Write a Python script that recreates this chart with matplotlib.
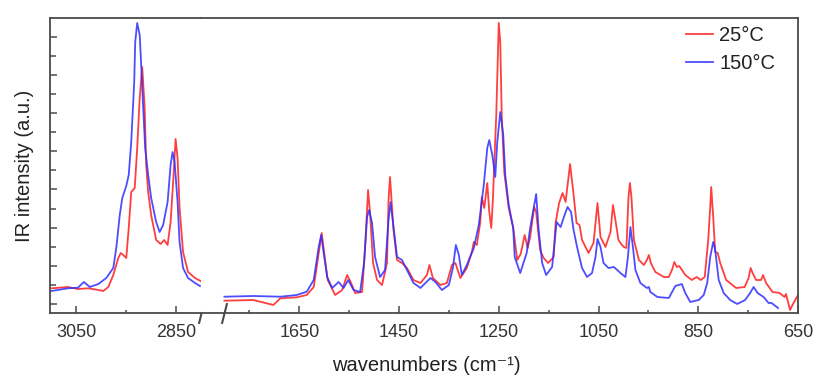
import numpy as np
import matplotlib
matplotlib.use("Agg")
import matplotlib.pyplot as plt
from matplotlib.ticker import FixedLocator, MultipleLocator, NullFormatter

plt.rcParams['font.family'] = ['Liberation Sans', 'DejaVu Sans']

# ---------------- data (IR intensity, arbitrary units) ----------------
# C-H stretching region (left segment)
wn_ch_25 = [3100, 3067, 3047, 3026, 3006, 2996, 2986, 2976, 2966, 2961, 2956, 2950, 2945, 2940,
            2933, 2928, 2923, 2918, 2913, 2910, 2906, 2900, 2890, 2881, 2874, 2867, 2861, 2855,
            2851, 2847, 2843, 2836, 2826, 2812, 2801]
int_ch_25 = [15.7, 17, 15, 15.7, 14, 13, 17, 29, 46, 51, 49, 46, 76, 112,
             116, 156, 206, 237, 196, 139, 112, 89, 64, 60, 64, 59, 82, 129,
             165, 146, 96, 52, 32, 26, 23]

wn_ch_150 = [3100, 3067, 3047, 3035, 3023, 3006, 2990, 2976, 2970, 2963, 2958, 2950, 2945, 2940,
             2934, 2932, 2928, 2923, 2920, 2916, 2912, 2906, 2900, 2890, 2883, 2876, 2867, 2861,
             2857, 2853, 2847, 2843, 2836, 2826, 2812, 2802]
int_ch_150 = [13, 15.7, 16.3, 22, 17, 20, 26, 36, 56, 89, 106, 118, 129, 162,
              222, 262, 281, 269, 239, 196, 156, 129, 106, 82, 72, 79, 102, 139,
              152, 142, 102, 62, 36, 26, 21, 18]

# Fingerprint region (right segment)
wn_fp_25 = [1800, 1742, 1702, 1688, 1655, 1635, 1621, 1611, 1605, 1600, 1593, 1578, 1564, 1554,
            1546, 1538, 1524, 1518, 1512, 1508, 1502, 1494, 1484, 1474, 1471, 1468, 1461, 1454,
            1444, 1434, 1421, 1407, 1394, 1389, 1382, 1367, 1354, 1344, 1337, 1327, 1314, 1304,
            1300, 1294, 1287, 1284, 1279, 1273, 1269, 1265, 1262, 1255, 1250, 1247, 1244, 1239,
            1230, 1221, 1213, 1206, 1198, 1192, 1187, 1179, 1175, 1167, 1160, 1151, 1140, 1136, 1129,
            1122, 1116, 1107, 1101, 1094, 1088, 1083, 1070, 1060, 1052, 1046, 1036, 1026, 1021,
            1017, 1010, 1003, 999, 994, 990, 987, 984, 979, 969, 959, 953, 949, 945,
            936, 919, 909, 902, 898, 893, 888, 876, 863, 853, 845, 837, 830, 826,
            824, 820, 816, 811, 806, 794, 774, 757, 749, 745, 741, 734, 724, 720,
            714, 701, 687, 677, 674, 666, 659, 650]
int_fp_25 = [3.3, 4, -1, 5.7, 6.7, 9, 17, 51, 71, 51, 24, 9, 14, 29,
             21, 11, 12, 57, 114, 91, 41, 24, 19, 41, 104, 127, 74, 44,
             41, 36, 24, 21, 29, 39, 26, 19, 21, 39, 41, 26, 36, 52,
             62, 59, 82, 107, 96, 121, 92, 76, 102, 189, 281, 262, 189, 132,
             96, 76, 44, 50, 69, 56, 67, 97, 92, 54, 46, 41, 47, 81, 101,
             111, 102, 140, 114, 81, 79, 64, 51, 61, 101, 67, 57, 72, 99,
             87, 64, 59, 57, 56, 106, 121, 107, 64, 44, 39, 44, 49, 41,
             32, 27, 27, 35, 42, 37, 38, 29, 24, 27, 24, 27, 64, 97,
             117, 87, 52, 51, 41, 24, 16, 17, 26, 36, 31, 24, 24, 29,
             21, 12, 11, 7, 10, -6, 1, 9]

wn_fp_150 = [1800, 1742, 1688, 1655, 1635, 1621, 1611, 1606, 1601, 1594, 1584, 1571, 1561, 1552,
             1541, 1528, 1520, 1514, 1510, 1504, 1498, 1488, 1478, 1471, 1467, 1461, 1454, 1444,
             1434, 1421, 1407, 1387, 1377, 1364, 1350, 1342, 1336, 1330, 1324, 1314, 1300, 1290,
             1280, 1273, 1269, 1263, 1257, 1253, 1247, 1241, 1237, 1230, 1221, 1218, 1207, 1194,
             1187, 1175, 1170, 1163, 1155, 1143, 1134, 1126, 1118, 1112, 1105, 1100,
             1093, 1083, 1073, 1063, 1056, 1052, 1046, 1040, 1030, 1019, 1006, 996, 991, 986,
             981, 976, 966, 953, 949, 946, 932, 909, 896, 883, 876, 866, 849, 839,
             832, 826, 820, 816, 809, 799, 786, 772, 756, 746, 739, 731, 719, 709,
             703, 690]
int_fp_150 = [7.3, 8, 7.3, 9, 12.3, 24, 57, 69, 51, 27, 16, 22, 16, 24,
              14, 12, 41, 87, 94, 81, 47, 27, 34, 84, 102, 77, 47, 44,
              34, 21, 16, 26, 22, 14, 19, 36, 59, 49, 29, 39, 56, 79,
              119, 156, 164, 149, 127, 162, 192, 169, 129, 99, 76, 47, 31, 51,
              76, 110, 74, 41, 29, 37, 82, 77, 89, 97, 92, 74,
              57, 36, 27, 31, 47, 65, 57, 41, 36, 37, 31, 27, 47, 77,
              57, 34, 21, 16, 17, 12, 7, 6, 18, 20, 11, 2, 4, 9,
              21, 47, 62, 54, 24, 11, 4, 0, 4, 11, 17, 11, 7, 1,
              1, -4]

series_labels = ['25°C', '150°C']
x_major_left = [3050, 2850]
x_minor_left = [2950]
x_major_right = [1650, 1450, 1250, 1050, 850, 650]
x_minor_right = [1750, 1550, 1350, 1150, 950, 750]

# ---------------- styling ----------------
RED = '#ff2a2a'
BLUE = '#2e2eff'
FRAME = '#4a4a4a'
TXT = '#333333'

W, H = 816, 376
fig = plt.figure(figsize=(W / 100, H / 100), dpi=100)
bottom_px, top_px = 313, 18
x0, xb, x1 = 50, 201, 798
ax1 = fig.add_axes([x0 / W, (H - bottom_px) / H, (xb - x0) / W, (bottom_px - top_px) / H])
ax2 = fig.add_axes([xb / W, (H - bottom_px) / H, (x1 - xb) / W, (bottom_px - top_px) / H])

lw = 1.3
for ax, (w25, i25, w150, i150) in [(ax1, (wn_ch_25, int_ch_25, wn_ch_150, int_ch_150)),
                                   (ax2, (wn_fp_25, int_fp_25, wn_fp_150, int_fp_150))]:
    ax.plot(w25, i25, color=RED, lw=lw, alpha=0.9, label=series_labels[0],
            solid_joinstyle='round')
    ax.plot(w150, i150, color=BLUE, lw=lw, alpha=0.85, label=series_labels[1],
            solid_joinstyle='round')
    ax.set_ylim(-9, 286)
    for s in ax.spines.values():
        s.set_color(FRAME)
        s.set_linewidth(1.3)

ax1.set_xlim(3103, 2800)
ax2.set_xlim(1847, 650)

ax1.spines['right'].set_visible(False)
ax2.spines['left'].set_visible(False)

# ticks
ax1.xaxis.set_major_locator(FixedLocator(x_major_left))
ax1.xaxis.set_minor_locator(FixedLocator(x_minor_left))
ax2.xaxis.set_major_locator(FixedLocator(x_major_right))
ax2.xaxis.set_minor_locator(FixedLocator(x_minor_right))
ax1.yaxis.set_major_locator(MultipleLocator(38.2))
ax1.yaxis.set_minor_locator(MultipleLocator(19.1))
ax1.yaxis.set_major_formatter(NullFormatter())
ax2.set_yticks([])

for ax in (ax1, ax2):
    ax.tick_params(axis='x', which='both', direction='in', top=False, color=FRAME,
                   labelsize=13, labelcolor=TXT, pad=8)
    ax.tick_params(axis='x', which='major', length=5, width=1.1)
    ax.tick_params(axis='x', which='minor', length=2.5, width=1.1)
ax1.tick_params(axis='y', which='both', direction='in', right=False, color=FRAME, width=1.1)
ax1.tick_params(axis='y', which='major', length=5)
ax1.tick_params(axis='y', which='minor', length=4.5)

# axis labels
ax1.set_ylabel('IR intensity (a.u.)', fontsize=14.5, color='#222222')
ax1.yaxis.set_label_coords((34 - x0) / (xb - x0), 0.5)
ax2.set_xlabel('wavenumbers (cm\u207b\u00b9)', fontsize=14.5, color='#222222')
ax2.xaxis.set_label_coords((426 - xb) / (x1 - xb), (bottom_px - 356) / (bottom_px - top_px))

# break marks
brk = [(-0.25, -1), (0.25, 1)]
ax1.plot([2800], [0], transform=ax1.get_xaxis_transform(), marker=brk, markersize=15,
         linestyle='none', color=FRAME, mew=1.5, clip_on=False)
ax2.plot([1800], [0], transform=ax2.get_xaxis_transform(), marker=brk, markersize=15,
         linestyle='none', color=FRAME, mew=1.5, clip_on=False)

# legend
leg = ax2.legend(loc='upper right', bbox_to_anchor=((775 - xb) / (x1 - xb) + 0.014, 1.0),
                 frameon=False, fontsize=14.5, handlelength=1.35, handletextpad=0.3,
                 labelspacing=0.45, borderaxespad=0.2, borderpad=0.2, alignment='right')
for t in leg.get_texts():
    t.set_color('#222222')

fig.savefig('out.png', dpi=100)
